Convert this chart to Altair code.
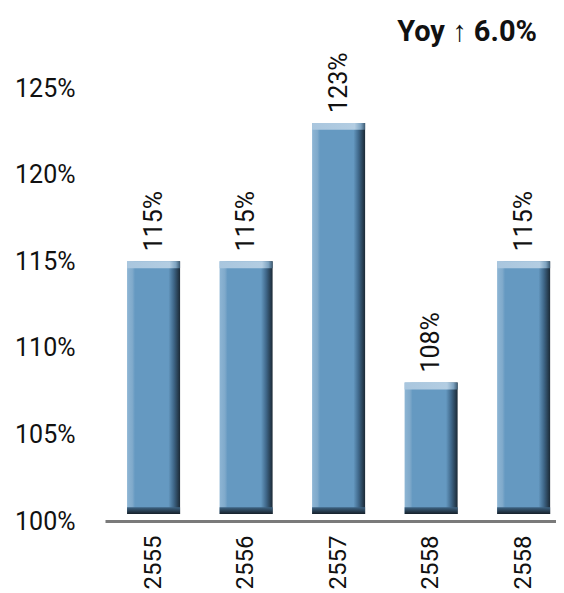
import altair as alt
import pandas as pd

years = ["2555", "2556", "2557", "2558", "2558"]
values = [115, 115, 123, 108, 115]
labels = ["115%", "115%", "123%", "108%", "115%"]
y_ticks = [100, 105, 110, 115, 120, 125]

df = pd.DataFrame({"idx": list(range(len(years))), "year": years,
                   "value": values, "label": labels})
df["base"] = 100.4
df["bev_top"] = df["value"] - 0.4
df["bev_bot"] = 100.8

label_expr = "[" + ",".join(f"'{y}'" for y in years) + "][datum.value]"

FONT = "Roboto"

x = alt.X("idx:O",
          scale=alt.Scale(paddingInner=0.427, paddingOuter=0.151, align=0.79),
          axis=alt.Axis(title=None, labelExpr=label_expr, labelAngle=270,
                        ticks=False, domainColor="#7a7a7a", domainWidth=3,
                        labelFontSize=24, labelPadding=14, labelColor="#111111",
                        labelFont=FONT))
yscale = alt.Scale(domain=[100, 127.5], nice=False, zero=False)
y = alt.Y("value:Q", scale=yscale,
          axis=alt.Axis(title=None, values=y_ticks, labelExpr="datum.value + '%'",
                        ticks=False, domain=False, grid=False, labelFontSize=25,
                        labelPadding=30, labelColor="#111111", labelFont=FONT))

body_grad = alt.Gradient(
    gradient="linear", x1=0, x2=1, y1=0, y2=0,
    stops=[alt.GradientStop(offset=0, color="#8db5d4"),
           alt.GradientStop(offset=0.10, color="#80aacb"),
           alt.GradientStop(offset=0.15, color="#6599c1"),
           alt.GradientStop(offset=0.78, color="#6599c1"),
           alt.GradientStop(offset=0.88, color="#3f6789"),
           alt.GradientStop(offset=1, color="#1b2935")])
top_grad = alt.Gradient(
    gradient="linear", x1=0, x2=1, y1=0, y2=0,
    stops=[alt.GradientStop(offset=0, color="#a9c6de"),
           alt.GradientStop(offset=0.8, color="#b3cde2"),
           alt.GradientStop(offset=0.92, color="#7fa4c1"),
           alt.GradientStop(offset=1, color="#3c5a72")])
bot_grad = alt.Gradient(
    gradient="linear", x1=0, x2=0, y1=0, y2=1,
    stops=[alt.GradientStop(offset=0, color="#3f6585"),
           alt.GradientStop(offset=1, color="#151f28")])

base = alt.Chart(df)

body = base.mark_bar(color=body_grad).encode(x=x, y=y, y2="base:Q")
top = base.mark_bar(color=top_grad).encode(x=x, y="value:Q", y2="bev_top:Q")
bottom = base.mark_bar(color=bot_grad).encode(x=x, y="bev_bot:Q", y2="base:Q")
text = base.mark_text(angle=270, align="left", baseline="middle", dx=10,
                      fontSize=25, font=FONT, color="#111111").encode(
    x=x, y="value:Q", text="label:N")

chart = alt.layer(body, top, bottom, text).properties(
    width=451, height=476,
    title=alt.TitleParams("Yoy \u2191 6.0%", anchor="end", fontSize=29,
                          fontWeight="bold", font=FONT, color="#111111",
                          dx=-19, dy=27, offset=2, baseline="alphabetic"),
    autosize=alt.AutoSizeParams(type="none"),
    padding={"left": 97, "top": 37, "right": 0, "bottom": 72},
).configure_view(stroke=None)

chart.save("out.html", embed_options={"renderer": "svg", "actions": False})
